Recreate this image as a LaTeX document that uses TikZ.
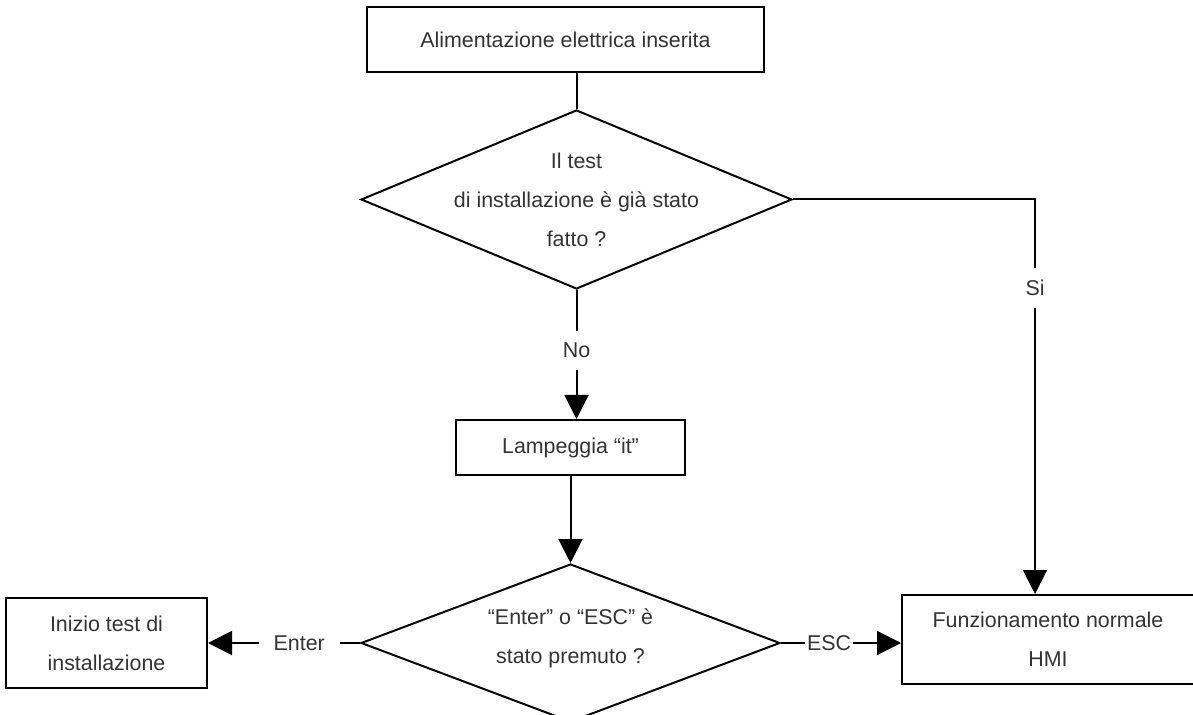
\documentclass[tikz,border=0pt]{standalone}
\usepackage{fontspec}
\setmainfont{Liberation Sans}
\usetikzlibrary{shapes.geometric, arrows.meta, positioning}

\begin{document}
\begin{tikzpicture} [
    font=\fontsize{10.7}{19.5}\selectfont,
    every node/.style={text=black!80},
    block/.style={rectangle, draw=black, line width=1pt, align=center},
    decision/.style={diamond, draw=black, line width=1pt, inner sep=0pt},
    question/.style={align=center},
    link/.style={line width=1pt},
    arrow/.style={-{Triangle[length=12pt, width=12pt]}, line width=1pt},
    tag/.style={fill=white, inner sep=6pt}
]
\useasboundingbox (0,0) rectangle (596.5pt,-357.5pt);

% Define all nodes first
\node[block, minimum width=198.5pt, minimum height=32.5pt] (power) at (282.75pt,-19.75pt) {Alimentazione elettrica inserita};
\node[decision, minimum width=215.5pt, minimum height=89.5pt, below=18pt of power, xshift=5.5pt] (test) {};
\node[question] (testq) at (test) {Il test\\di installazione è già stato\\fatto ?};
\node[block, minimum width=114.5pt, minimum height=27.5pt, below=64.5pt of test, xshift=-3pt] (blink) {Lampeggia “it”};
\node[decision, minimum width=209.5pt, minimum height=79pt, below=43.5pt of blink] (choice) {};
\node[question, yshift=2.5pt] (choiceq) at (choice) {“Enter” o “ESC” è\\stato premuto ?};
\node[block, minimum width=100.5pt, minimum height=45pt, left=76pt of choice] (install) {Inizio test di\\installazione};
\node[block, minimum width=146pt, minimum height=44.5pt, right=60pt of choice, yshift=1.75pt] (normal) {Funzionamento normale\\HMI};

% Connectors
\draw[link] (test.north) -- (test.north |- power.south);
\draw[arrow] (test.south) -- node[tag, pos=0.47] (lno) {No} (test.south |- blink.north);
\draw[arrow] (blink.south) -- (choice.north);
\draw[arrow] (choice.west) -- node[tag, pos=0.4, inner xsep=7.5pt] (lenter) {Enter} (install.east);
\draw[arrow] (choice.east) -- node[tag, pos=0.4, inner xsep=1pt] (lesc) {ESC} (choice.east -| normal.west);
\draw[arrow] (test.east) -| node[tag, pos=0.612] (lsi) {Si} ([xshift=-6.5pt]normal.north);

\end{tikzpicture}
\end{document}
